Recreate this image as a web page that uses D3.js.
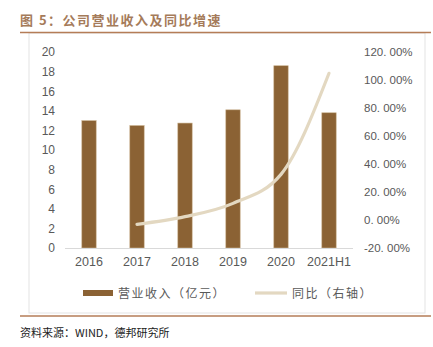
<!DOCTYPE html>
<html>
<head>
<meta charset="utf-8">
<script src="https://cdn.jsdelivr.net/npm/d3@7"></script>
<style>
  body { margin: 0; background: #fff; }
  text { font-family: "Noto Sans CJK SC", "Noto Sans", sans-serif; }
</style>
</head>
<body>
<svg id="chart" width="433" height="347"></svg>
<script>
// data
var years = ["2016", "2017", "2018", "2019", "2020", "2021H1"];
var revenue = [13.0, 12.5, 12.75, 14.1, 18.6, 13.8];
var growth = [null, -3.1, 2.4, 11.9, 32.6, 104.8];
var leftTicks = [0, 2, 4, 6, 8, 10, 12, 14, 16, 18, 20];
var rightTicks = [-20, 0, 20, 40, 60, 80, 100, 120];

var svg = d3.select("#chart");
var brown = "#8B6234", beige = "#E3D8C1";

// title + frame
svg.append("text").attr("x", 20).attr("y", 25)
    .style("font-size", "13px").style("font-weight", "bold")
    .style("fill", "#A57B5A").style("letter-spacing", "1.5px")
    .text("图 5：公司营业收入及同比增速");
svg.append("rect").attr("x", 29).attr("y", 33).attr("width", 396).attr("height", 280)
    .attr("fill", "none").attr("stroke", "#e3e3e3");
svg.append("line").attr("x1", 20).attr("x2", 431).attr("y1", 32.5).attr("y2", 32.5)
    .attr("stroke", "#B57D57").attr("stroke-width", 1.5);
svg.append("line").attr("x1", 20).attr("x2", 431).attr("y1", 316).attr("y2", 316)
    .attr("stroke", "#B57D57").attr("stroke-width", 1.5);
svg.append("text").attr("x", 20).attr("y", 337)
    .style("font-size", "11px").style("fill", "#222")
    .text("资料来源：WIND，德邦研究所");

var x = d3.scaleBand().domain(years).range([65, 353]).paddingInner(0.7).paddingOuter(0.35);
var yL = d3.scaleLinear().domain([0, 20]).range([248, 52]);
var yR = d3.scaleLinear().domain([-20, 120]).range([248, 52]);

// left axis labels
svg.append("g").attr("transform", "translate(55,0)")
    .call(d3.axisLeft(yL).tickValues(leftTicks).tickSize(0).tickPadding(0))
    .call(function(g){ g.select(".domain").remove(); })
    .selectAll("text").style("font-size", "12px").style("fill", "#595959")
    .style("font-family", "Liberation Sans, sans-serif");

// right axis labels
svg.append("g").attr("transform", "translate(364,0)")
    .call(d3.axisRight(yR).tickValues(rightTicks).tickSize(0).tickPadding(0)
        .tickFormat(function(d){ return d.toFixed(2).replace(".", ". ") + "%"; }))
    .call(function(g){ g.select(".domain").remove(); })
    .selectAll("text").style("font-size", "11.5px").style("fill", "#595959")
    .style("font-family", "Liberation Sans, sans-serif");

// bars
svg.append("g").selectAll("rect").data(revenue).enter().append("rect")
    .attr("x", function(d, i){ return x(years[i]); })
    .attr("width", x.bandwidth())
    .attr("y", function(d){ return yL(d); })
    .attr("height", function(d){ return yL(0) - yL(d); })
    .attr("fill", brown).attr("stroke", "#CDB795").attr("stroke-width", 0.6);

// baseline
svg.append("line").attr("x1", 65).attr("x2", 353).attr("y1", 248.5).attr("y2", 248.5)
    .attr("stroke", "#d9d9d9");

// x labels
svg.append("g").attr("transform", "translate(0,248)")
    .call(d3.axisBottom(x).tickSize(0).tickPadding(9))
    .call(function(g){ g.select(".domain").remove(); })
    .selectAll("text").style("font-size", "12.5px").style("fill", "#595959")
    .style("font-family", "Liberation Sans, sans-serif");

// growth line
var line = d3.line()
    .defined(function(d){ return d != null; })
    .x(function(d, i){ return x(years[i]) + x.bandwidth() / 2; })
    .y(function(d){ return yR(d); })
    .curve(d3.curveMonotoneX);
svg.append("path").datum(growth).attr("d", line)
    .attr("fill", "none").attr("stroke", beige).attr("stroke-width", 3.2)
    .attr("stroke-linecap", "round");

// legend
svg.append("rect").attr("x", 83).attr("y", 290).attr("width", 30).attr("height", 6).attr("fill", brown);
svg.append("text").attr("x", 118).attr("y", 297.5).style("font-size", "12px").style("fill", "#595959")
    .style("letter-spacing", "1.5px").text("营业收入（亿元）");
svg.append("line").attr("x1", 255).attr("x2", 287).attr("y1", 293).attr("y2", 293)
    .attr("stroke", beige).attr("stroke-width", 3.2);
svg.append("text").attr("x", 292).attr("y", 297.5).style("font-size", "12px").style("fill", "#595959")
    .style("letter-spacing", "1.5px").text("同比（右轴）");
</script>
</body>
</html>
